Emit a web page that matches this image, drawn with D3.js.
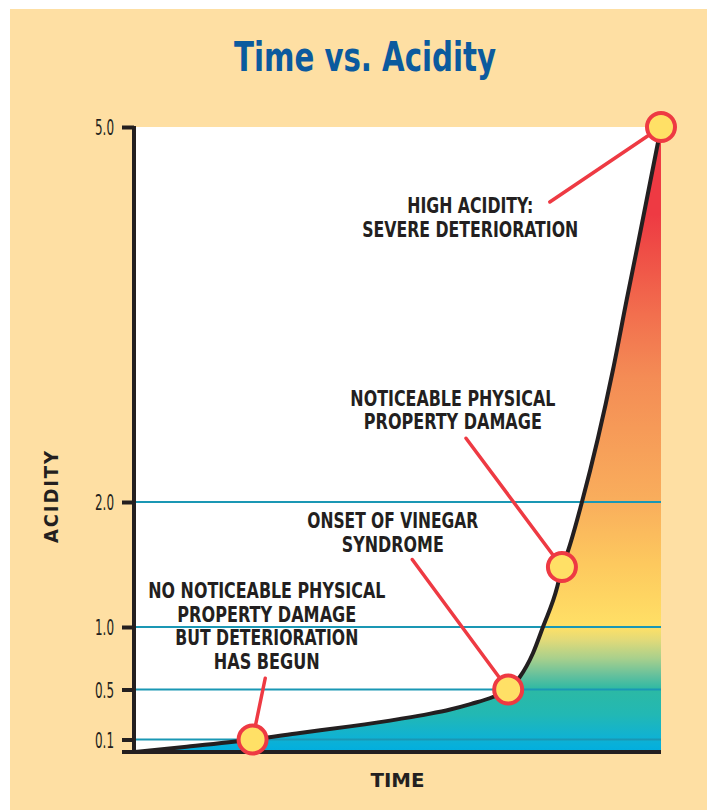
<!DOCTYPE html>
<html>
<head>
<meta charset="utf-8">
<script src="https://cdn.jsdelivr.net/npm/d3@7"></script>
<style>
  html, body { margin: 0; padding: 0; background: #ffffff; }
  svg { display: block; }
</style>
</head>
<body>
<div id="chart"></div>
<script>
// ---------------- DATA ----------------
const chartTitle = "Time vs. Acidity";
const xAxisLabel = "TIME";
const yAxisLabel = "ACIDITY";

// curve samples: time (arbitrary units 0..10) vs acidity
const curveTime    = [0, 1.0, 2.25, 3.15, 4.1, 5.05, 5.6, 6.0, 6.4, 6.81, 7.10, 7.32, 7.57, 7.76, 8.03, 8.12, 8.22, 8.50, 9.09, 9.35, 9.57, 9.94, 10];
const curveAcidity = [0, 0.042, 0.10, 0.152, 0.205, 0.265, 0.305, 0.34, 0.385, 0.44, 0.50, 0.60, 0.79, 1.0, 1.32, 1.48, 1.59, 2.0, 3.06, 3.62, 4.08, 4.87, 5.0];

// y axis ticks / grid lines
const yTickValues = [0.1, 0.5, 1.0, 2.0, 5.0];
const gridValues  = [0.1, 0.5, 1.0, 2.0];

// annotation points on the curve
const pointTime    = [2.25, 7.10, 8.12, 10];
const pointAcidity = [0.10, 0.50, 1.48, 5.0];

// annotation labels (leader start, text anchor in data units)
const labelLines = [
  ["NO NOTICEABLE PHYSICAL", "PROPERTY DAMAGE", "BUT DETERIORATION", "HAS BEGUN"],
  ["ONSET OF VINEGAR", "SYNDROME"],
  ["NOTICEABLE PHYSICAL", "PROPERTY DAMAGE"],
  ["HIGH ACIDITY:", "SEVERE DETERIORATION"]
];
const leaderTime    = [2.49, 5.28, 6.30, 7.89];
const leaderAcidity = [0.59, 1.54, 2.51, 4.40];
const labelTime     = [2.52, 4.91, 6.05, 6.38];
const labelAcidity  = [1.23, 1.79, 2.77, 4.31];

// fill gradient: acidity value -> colour
const gradValues = [0, 0.12, 0.3, 0.5, 0.6, 0.75, 0.9, 1.0, 1.5, 2.0, 3.0, 3.5, 4.0, 4.3, 5.0];
const gradColors = ["#00aee0", "#10b2d2", "#22b8b4", "#2cb9a4", "#5ebf9e", "#a9d08c", "#e3da78", "#ffe066", "#fdc95e", "#f9ae5c", "#f48c55", "#f26f4e", "#ef4e46", "#ee3a43", "#ee3a43"];

// ---------------- STYLE / LAYOUT ----------------
const W = 707, H = 810;
const C = {
  page: "#fedfa3", ink: "#231f20", title: "#0b5a9e",
  grid: "#1a97b4", red: "#ee3a43", dot: "#ffe066"
};
const condensed = "'Liberation Sans Narrow', 'Arial Narrow', 'DejaVu Sans Condensed', 'Roboto', sans-serif";
const plot = { left: 134, right: 661, top: 127, bottom: 752 };

const svg = d3.select("#chart").append("svg")
  .attr("width", W).attr("height", H);

svg.append("rect").attr("x", 10).attr("y", 9)
  .attr("width", W - 10).attr("height", H - 9).attr("fill", C.page);

const x = d3.scaleLinear().domain([0, 10]).range([plot.left, plot.right]);
const y = d3.scaleLinear().domain([0, 5]).range([plot.bottom, plot.top]);

// plot background
svg.append("rect")
  .attr("x", x(0)).attr("y", y(5))
  .attr("width", x(10) - x(0)).attr("height", y(0) - y(5))
  .attr("fill", "#ffffff");

// gradient
const defs = svg.append("defs");
const grad = defs.append("linearGradient").attr("id", "acidGrad")
  .attr("gradientUnits", "userSpaceOnUse")
  .attr("x1", 0).attr("x2", 0).attr("y1", y(0)).attr("y2", y(5));
gradValues.forEach((v, i) => {
  grad.append("stop").attr("offset", (v / 5)).attr("stop-color", gradColors[i]);
});

const pts = curveTime.map((t, i) => [t, curveAcidity[i]]);

const area = d3.area()
  .x(d => x(d[0])).y0(y(0)).y1(d => y(d[1]))
  .curve(d3.curveMonotoneX);
svg.append("path").datum(pts).attr("d", area).attr("fill", "url(#acidGrad)");

// grid lines
svg.append("g").selectAll("line").data(gridValues).join("line")
  .attr("x1", x(0)).attr("x2", x(10))
  .attr("y1", d => y(d)).attr("y2", d => y(d))
  .attr("stroke", C.grid).attr("stroke-width", 2);

// curve
const line = d3.line().x(d => x(d[0])).y(d => y(d[1])).curve(d3.curveMonotoneX);
svg.append("path").datum(pts).attr("d", line)
  .attr("fill", "none").attr("stroke", C.ink).attr("stroke-width", 4)
  .attr("stroke-linejoin", "round");

// axes
const yAxis = d3.axisLeft(y).tickValues(yTickValues)
  .tickFormat(d3.format(".1f")).tickSize(12).tickSizeOuter(0).tickPadding(8);
const gy = svg.append("g").attr("transform", `translate(${x(0)},0)`).call(yAxis);
gy.select(".domain").attr("stroke", C.ink).attr("stroke-width", 4)
  .attr("d", `M0,${y(5) - 1}V${y(0) + 2}`);
gy.selectAll(".tick line").attr("stroke", C.ink).attr("stroke-width", 4);
gy.selectAll(".tick text")
  .attr("fill", C.ink).attr("font-family", condensed)
  .attr("font-size", 21).attr("font-weight", 400)
  .attr("dy", "0.36em")
  .attr("textLength", 19).attr("lengthAdjust", "spacingAndGlyphs");

const xAxis = d3.axisBottom(x).tickValues([]).tickSizeOuter(0);
const gx = svg.append("g").attr("transform", `translate(0,${y(0)})`).call(xAxis);
gx.select(".domain").attr("stroke", C.ink).attr("stroke-width", 4)
  .attr("d", `M${x(0) - 12},0H${x(10)}`);

// axis titles
svg.append("text")
  .attr("x", (x(0) + x(10)) / 2).attr("y", 787)
  .attr("text-anchor", "middle")
  .attr("font-family", condensed).attr("font-weight", 700).attr("font-size", 20)
  .attr("fill", C.ink)
  .attr("textLength", 54).attr("lengthAdjust", "spacingAndGlyphs")
  .text(xAxisLabel);

svg.append("text")
  .attr("transform", `translate(58,497) rotate(-90)`)
  .attr("text-anchor", "middle")
  .attr("font-family", condensed).attr("font-weight", 700).attr("font-size", 20)
  .attr("fill", C.ink)
  .attr("textLength", 92).attr("lengthAdjust", "spacing")
  .text(yAxisLabel);

// title
svg.append("text")
  .attr("x", 365).attr("y", 71)
  .attr("text-anchor", "middle")
  .attr("font-family", condensed).attr("font-weight", 700).attr("font-size", 41)
  .attr("fill", C.title)
  .attr("textLength", 262).attr("lengthAdjust", "spacingAndGlyphs")
  .text(chartTitle);

// leader lines
const leaders = svg.append("g");
pointTime.forEach((t, i) => {
  leaders.append("line")
    .attr("x1", x(leaderTime[i])).attr("y1", y(leaderAcidity[i]))
    .attr("x2", x(t)).attr("y2", y(pointAcidity[i]))
    .attr("stroke", C.red).attr("stroke-width", 3.5).attr("stroke-linecap", "round");
});

// points
svg.append("g").selectAll("circle").data(pointTime).join("circle")
  .attr("cx", d => x(d)).attr("cy", (d, i) => y(pointAcidity[i]))
  .attr("r", 14)
  .attr("fill", C.dot).attr("stroke", C.red).attr("stroke-width", 4);

// labels
const lineWidths = [[237, 179, 183, 106], [171, 102], [205, 178], [126, 216]];
const lineStep = 23.6;
labelLines.forEach((lines, i) => {
  const t = svg.append("text")
    .attr("text-anchor", "middle")
    .attr("font-family", condensed).attr("font-weight", 700).attr("font-size", 21)
    .attr("fill", C.ink);
  lines.forEach((s, j) => {
    t.append("tspan")
      .attr("x", x(labelTime[i]))
      .attr("y", y(labelAcidity[i]) + j * lineStep)
      .attr("textLength", lineWidths[i][j]).attr("lengthAdjust", "spacingAndGlyphs")
      .text(s);
  });
});
</script>
</body>
</html>
